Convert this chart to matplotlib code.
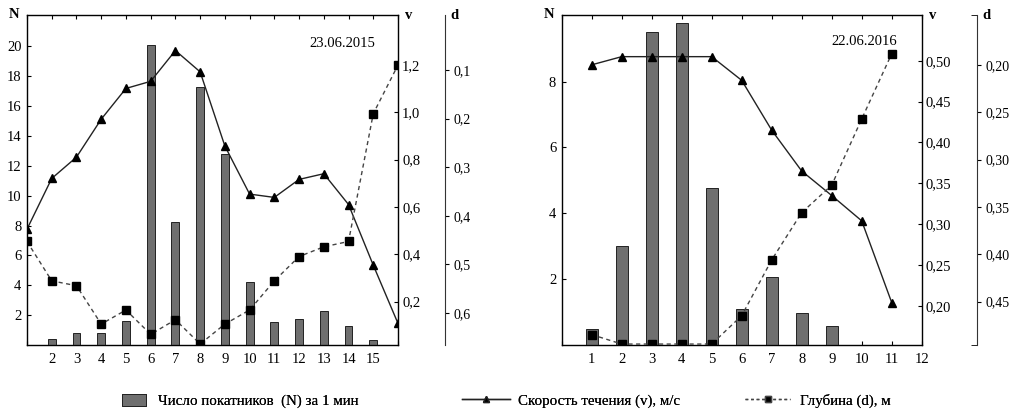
import matplotlib
matplotlib.use("Agg")
import matplotlib.pyplot as plt
from matplotlib.lines import Line2D
from matplotlib.patches import Patch

plt.rcParams['font.family'] = ['Liberation Serif', 'DejaVu Serif']
plt.rcParams['font.size'] = 10

# ---- Left chart (23.06.2015) ----
L_bar_x = [2, 3, 4, 5, 6, 7, 8, 9, 10, 11, 12, 13, 14, 15]
L_N = [0.4, 0.8, 0.8, 1.6, 20.1, 8.25, 17.3, 12.8, 4.2, 1.56, 1.72, 2.28, 1.27, 0.33]
L_pt_x = [1, 2, 3, 4, 5, 6, 7, 8, 9, 10, 11, 12, 13, 14, 15, 16]
L_v = [0.506, 0.72, 0.81, 0.97, 1.10, 1.13, 1.26, 1.17, 0.857, 0.654,
       0.64, 0.716, 0.74, 0.61, 0.354, 0.108]
L_d = [0.453, 0.534, 0.544, 0.623, 0.594, 0.644, 0.614, 0.664, 0.623, 0.594,
       0.534, 0.484, 0.464, 0.453, 0.19, 0.09]
L_xticks = list(range(1, 17))
L_xlabels = [''] + [str(i) for i in range(2, 16)] + ['']
L_Nticks = [2, 4, 6, 8, 10, 12, 14, 16, 18, 20]
L_vticks = [0.2, 0.4, 0.6, 0.8, 1.0, 1.2]
L_vlabels = ['0,2', '0,4', '0,6', '0,8', '1,0', '1,2']
L_dticks = [0.1, 0.2, 0.3, 0.4, 0.5, 0.6]
L_dlabels = ['0,1', '0,2', '0,3', '0,4', '0,5', '0,6']
L_date = '23.06.2015'

# ---- Right chart (22.06.2016) ----
R_bar_x = [1, 2, 3, 4, 5, 6, 7, 8, 9]
R_N = [0.5, 3.0, 9.5, 9.77, 4.76, 1.09, 2.07, 0.96, 0.58]
R_pt_x = [1, 2, 3, 4, 5, 6, 7, 8, 9, 10, 11]
R_v = [0.495, 0.505, 0.505, 0.505, 0.505, 0.476, 0.415, 0.365, 0.335, 0.304, 0.204]
R_d = [0.485, 0.495, 0.495, 0.495, 0.495, 0.465, 0.406, 0.356, 0.327, 0.257, 0.188]
R_xticks = list(range(0, 13))
R_xlabels = [''] + [str(i) for i in range(1, 13)]
R_Nticks = [2, 4, 6, 8]
R_vticks = [0.20, 0.25, 0.30, 0.35, 0.40, 0.45, 0.50]
R_vlabels = ['0,20', '0,25', '0,30', '0,35', '0,40', '0,45', '0,50']
R_dticks = [0.20, 0.25, 0.30, 0.35, 0.40, 0.45]
R_dlabels = ['0,20', '0,25', '0,30', '0,35', '0,40', '0,45']
R_date = '22.06.2016'

legend_labels = ['Число покатников  (N) за 1 мин', 'Скорость течения (v), м/с', 'Глубина (d), м']

BAR_C = '#6f6f6f'
FS = 10.5
LFS = 10.8

fig = plt.figure(figsize=(10.09, 4.12), dpi=100)


def panel(rect, bar_x, N, pt_x, v, d, xticks, xlabels, xlim, Nlim, Nticks,
          vlim, vticks, vlabels, dlim, dticks, dlabels, d_offset, bar_w, date, date_xy,
          bracket):
    ax = fig.add_axes(rect)
    ax.bar(bar_x, N, width=bar_w, color=BAR_C, edgecolor='#222222', linewidth=0.7, zorder=2)
    ax.set_xlim(*xlim)
    ax.set_ylim(*Nlim)
    ax.set_xticks(xticks)
    ax.set_xticklabels(xlabels, fontsize=FS)
    ax.set_yticks(Nticks)
    ax.set_yticklabels([str(t) for t in Nticks], fontsize=FS)
    ax.tick_params(axis='x', direction='in', top=True, length=3, pad=6)
    ax.tick_params(axis='y', direction='in', length=3, pad=4)
    for s in ax.spines.values():
        s.set_linewidth(1.0)
        s.set_color('#333333')
    ax.text(-0.02, 1.0, 'N', transform=ax.transAxes, ha='right', va='center',
            fontsize=FS, fontweight='bold')

    axv = ax.twinx()
    axv.plot(pt_x, v, color='#222222', lw=1.0, marker='^', ms=5.5,
             markerfacecolor='black', markeredgecolor='black', zorder=3)
    axv.set_ylim(*vlim)
    axv.set_yticks(vticks)
    axv.set_yticklabels(vlabels, fontsize=FS)
    axv.tick_params(axis='y', direction='in', length=3, pad=3)
    axv.text(1.02, 1.0, 'v', transform=axv.transAxes, ha='left', va='center',
             fontsize=FS, fontweight='bold')

    axd = ax.twinx()
    axd.plot(pt_x, d, color='#444444', lw=1.0, ls=(0, (3, 2.5)), marker='s', ms=5.5,
             markerfacecolor='black', markeredgecolor='black', zorder=4)
    axd.set_ylim(*dlim)
    axd.set_yticks(dticks)
    axd.set_yticklabels(dlabels, fontsize=FS)
    axd.spines['right'].set_position(('axes', d_offset))
    axd.spines['right'].set_color('#333333')
    for k in ('top', 'bottom', 'left'):
        axd.spines[k].set_visible(False)
    axd.tick_params(axis='y', direction='out', length=3, pad=3)
    if bracket:
        axd.set_yticks(list(dlim), minor=True)
        axd.tick_params(axis='y', which='minor', direction='in', length=4)
    axd.text(d_offset + 0.015, 1.0, 'd', transform=axd.transAxes, ha='left',
             va='center', fontsize=FS, fontweight='bold')

    axd.text(date_xy[0], date_xy[1], date, transform=axd.transAxes, ha='center',
             va='center', fontsize=FS)
    return ax


panel([27 / 1009, 67 / 412, 371 / 1009, 330 / 412], L_bar_x, L_N, L_pt_x, L_v, L_d,
      L_xticks, L_xlabels, (1, 16), (0, 22.1), L_Nticks,
      (0.017, 1.41), L_vticks, L_vlabels, (0.666, -0.013), L_dticks, L_dlabels,
      1.127, 0.32, L_date, (0.85, 0.915), False)

panel([561.7 / 1009, 67 / 412, 360 / 1009, 330 / 412], R_bar_x, R_N, R_pt_x, R_v, R_d,
      R_xticks, R_xlabels, (0, 12), (0, 10.02), R_Nticks,
      (0.152, 0.556), R_vticks, R_vlabels, (0.496, 0.147), R_dticks, R_dlabels,
      1.153, 0.4, R_date, (0.84, 0.92), True)

handles = [
    Patch(facecolor=BAR_C, edgecolor='#222222', linewidth=0.7),
    Line2D([], [], color='#222222', lw=1.0, marker='^', ms=5, markerfacecolor='black'),
    Line2D([], [], color='#444444', lw=1.0, ls=(0, (2, 2)), marker='s', ms=4,
           markerfacecolor='black'),
]
leg_x = [122 / 1009, 462 / 1009, 745 / 1009]
leg_hl = [1.6, 3.2, 3.0]
leg_pad = [0.8, 0.55, 0.65]
for h, lab, x, hl, tp in zip(handles, legend_labels, leg_x, leg_hl, leg_pad):
    lg = fig.legend([h], [lab], loc='center left', bbox_to_anchor=(x, 0.027),
                    frameon=False, fontsize=LFS, borderpad=0, borderaxespad=0,
                    handlelength=hl, handletextpad=tp, handleheight=0.9)
    fig.add_artist(lg)

fig.savefig('out.png', dpi=100)
